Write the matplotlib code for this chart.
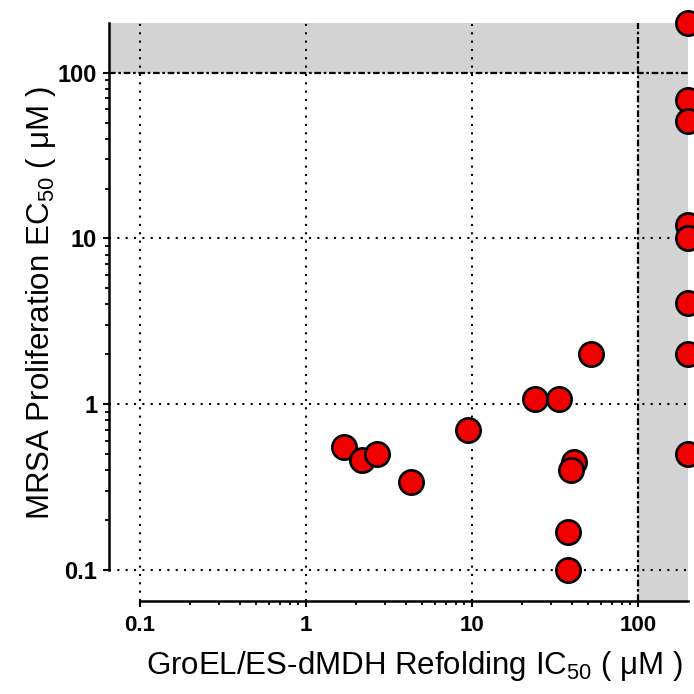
import matplotlib
matplotlib.use('Agg')
from matplotlib import pyplot as plt
from matplotlib.ticker import FixedLocator, NullFormatter
import numpy as np

plt.rcParams['font.family'] = ['Liberation Sans', 'DejaVu Sans']
plt.rcParams['mathtext.fontset'] = 'custom'
plt.rcParams['mathtext.rm'] = 'Liberation Sans'

# GroEL/ES-dMDH refolding IC50 (uM) vs MRSA proliferation EC50 (uM)
ic50 = [1.7, 2.18, 2.69, 4.3, 9.5, 24, 33.4, 41, 39.5, 37.8, 37.8, 52,
        200, 200, 200, 200, 200, 200, 200, 200]
ec50 = [0.55, 0.46, 0.50, 0.34, 0.70, 1.08, 1.08, 0.45, 0.40, 0.17, 0.10, 2.0,
        200, 68, 51, 12, 10, 4.1, 2.0, 0.5]

major = [0.1, 1, 10, 100]
major_labels = ['0.1', '1', '10', '100']
grid_vals = [0.1, 1, 10]
cutoff = 100
lo, hi = 0.0655, 200

fig = plt.figure(figsize=(6.94, 6.94), dpi=100)
ax = fig.add_axes([109/694, 1 - 600.7/694, 579/694, 578/694])
ax.set_xscale('log')
ax.set_yscale('log')
ax.set_xlim(lo, hi)
ax.set_ylim(lo, hi)

# inactive regions
ax.axvspan(cutoff, hi, color='#d3d3d3', lw=0, zorder=0)
ax.axhspan(cutoff, hi, color='#d3d3d3', lw=0, zorder=0)

for v in grid_vals:
    ax.axvline(v, color='black', lw=1.5, ls=(0, (1, 3)), zorder=1)
    ax.axhline(v, color='black', lw=1.5, ls=(0, (1, 3)), zorder=1)
ax.axvline(cutoff, color='black', lw=1.6, ls=(0, (3, 1.2, 1.2, 1.2)), zorder=1)
ax.axhline(cutoff, color='black', lw=1.6, ls=(0, (3, 1.2, 1.2, 1.2)), zorder=1)

ax.plot(ic50, ec50, 'o', ms=17.5, mfc='#f00000', mec='black', mew=1.9,
        ls='none', clip_on=False, zorder=3)

for s in ['top', 'right']:
    ax.spines[s].set_visible(False)
for s in ['left', 'bottom']:
    ax.spines[s].set_linewidth(1.8)
ax.spines['left'].set_bounds(0.1, hi)
ax.spines['bottom'].set_bounds(0.1, hi)

minor = [m * d for d in [0.1, 1, 10] for m in range(2, 10)]
for axis in [ax.xaxis, ax.yaxis]:
    axis.set_major_locator(FixedLocator(major))
    axis.set_minor_locator(FixedLocator(minor))
    axis.set_minor_formatter(NullFormatter())
ax.set_xticklabels(major_labels)
ax.set_yticklabels(major_labels)
ax.tick_params(which='major', direction='out', length=4.5, width=1.5,
               labelsize=16, pad=4)
ax.tick_params(which='minor', direction='out', length=3, width=1.3)
ax.tick_params(axis='x', which='major', pad=6)
ax.tick_params(axis='y', which='major', labelsize=17)
for t in ax.get_xticklabels() + ax.get_yticklabels():
    t.set_fontweight('bold')

ax.set_xlabel(r'GroEL/ES-dMDH Refolding IC$_{\mathregular{50}}$ ( μM )',
              fontsize=22.5, va='center')
ax.xaxis.set_label_coords(0.527, -0.113)
ax.set_ylabel(r'MRSA Proliferation EC$_{\mathregular{50}}$ ( μM )',
              fontsize=22.5, va='center')
ax.yaxis.set_label_coords(-0.117, 0.515)

fig.savefig('out.png', dpi=100)
